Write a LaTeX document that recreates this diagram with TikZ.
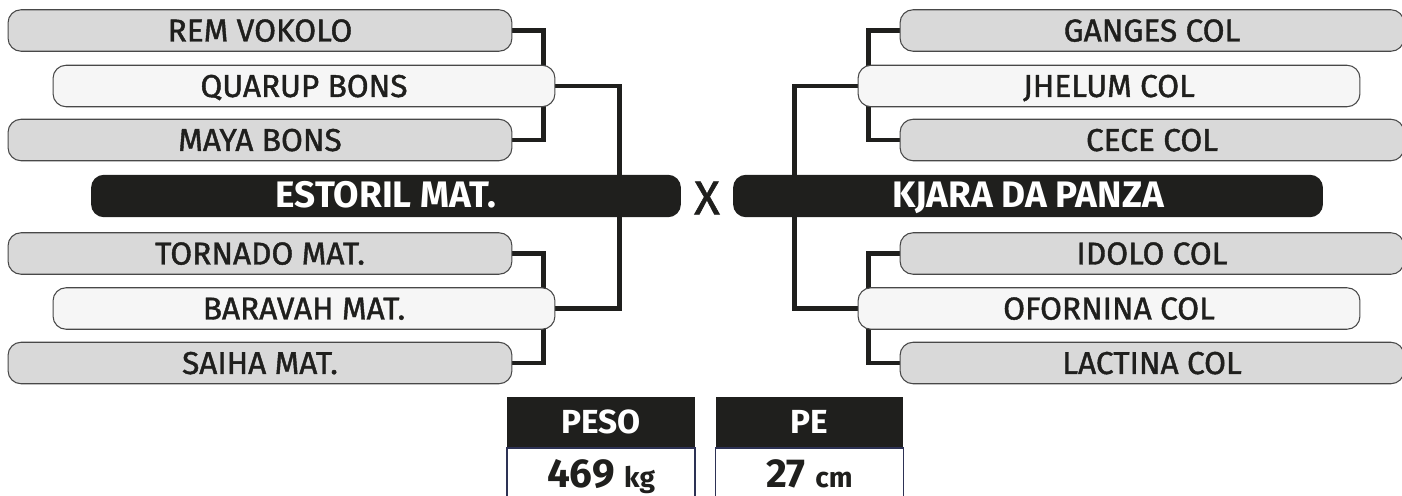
\documentclass[tikz,border=0pt]{standalone}
\usepackage{fontspec}
\setmainfont{Fira Sans}
\newfontfamily\teamfont{Fira Sans}[FakeBold=1.3]
\usetikzlibrary{backgrounds}
\definecolor{brkgray}{RGB}{217,217,217}
\definecolor{brklight}{RGB}{246,246,246}
\definecolor{brkedge}{RGB}{72,72,72}
\definecolor{brkdark}{RGB}{31,31,29}
\definecolor{brknavy}{RGB}{45,50,85}
\tikzset{
  bteam/.style={draw=brkedge, line width=0.6pt, fill=brkgray, rounded corners=0.26cm, minimum width=10.08cm, minimum height=0.83cm, inner sep=0pt, text height=0.44cm, text depth=0pt, text=brkdark, font=\teamfont\fontsize{18}{18}\selectfont},
  bseed/.style={bteam, fill=brklight, minimum width=10.04cm},
  bfinal/.style={bteam, draw=none, fill=brkdark, text=white, minimum width=11.8cm, minimum height=0.85cm, text height=0.47cm, font=\bfseries\fontsize{21}{21}\selectfont},
  bline/.style={draw=brkdark, line width=0.09cm},
  bhead/.style={fill=brkdark, text=white, minimum width=3.76cm, minimum height=1.02cm, inner sep=0pt, text height=0.46cm, text depth=0pt, font=\bfseries\fontsize{19}{19}\selectfont},
  bval/.style={draw=brknavy, line width=0.6pt, fill=white, minimum width=3.76cm, minimum height=1.04cm, inner sep=0pt, text height=0.56cm, text depth=0pt, text=brkdark, font=\bfseries\fontsize{23}{23}\selectfont}
}
\newcommand{\unitsm}[1]{{\fontsize{16}{16}\selectfont #1}}

\begin{document}
\begin{tikzpicture}[x=0.02cm, y=-0.02cm]
    \useasboundingbox (0,0) rectangle (1402,496);
    % left half
    \node[bteam] (rem) at (260,30.5) {REM VOKOLO};
    \node[bseed] (quarup) at (304,86) {QUARUP BONS};
    \node[bteam] (maya) at (260,140) {MAYA BONS};
    \node[bfinal] (estoril) at (386,196) {ESTORIL MAT.};
    \node[bteam] (tornado) at (260,253.5) {TORNADO MAT.};
    \node[bseed] (baravah) at (304,308.5) {BARAVAH MAT.};
    \node[bteam] (saiha) at (260,363) {SAIHA MAT.};
    % right half
    \node[bteam] (ganges) at (1152,30.5) {GANGES COL};
    \node[bseed] (jhelum) at (1109,86) {JHELUM COL};
    \node[bteam] (cece) at (1152,140) {CECE COL};
    \node[bfinal] (kjara) at (1028,196) {KJARA DA PANZA};
    \node[bteam] (idolo) at (1152,253.5) {IDOLO COL};
    \node[bseed] (ofornina) at (1109,308.5) {OFORNINA COL};
    \node[bteam] (lactina) at (1152,363) {LACTINA COL};
    \node[font=\teamfont\fontsize{27}{27}\selectfont, text=brkdark, inner sep=0pt] (versus) at (707,198) {X};
    % brackets
    \begin{scope}[on background layer]
      \draw[bline] (rem.east) -- ++(31,0) |- (maya.east);
      \draw[bline] (tornado.east) -- ++(31,0) |- (saiha.east);
      \draw[bline] (quarup.east) -- ++(64,0) |- (baravah.east);
      \draw[bline] (ganges.west) -- ++(-31,0) |- (cece.west);
      \draw[bline] (idolo.west) -- ++(-31,0) |- (lactina.west);
      \draw[bline] (jhelum.west) -- ++(-63,0) |- (ofornina.west);
    \end{scope}
    % stats
    \node[bhead] (pesohead) at (601,422.5) {PESO};
    \node[bval] (pesoval) at (601,474) {469 \unitsm{kg}};
    \node[bhead] (pehead) at (809.5,422.5) {PE};
    \node[bval] (peval) at (809.5,474) {27 \unitsm{cm}};
\end{tikzpicture}
\end{document}
